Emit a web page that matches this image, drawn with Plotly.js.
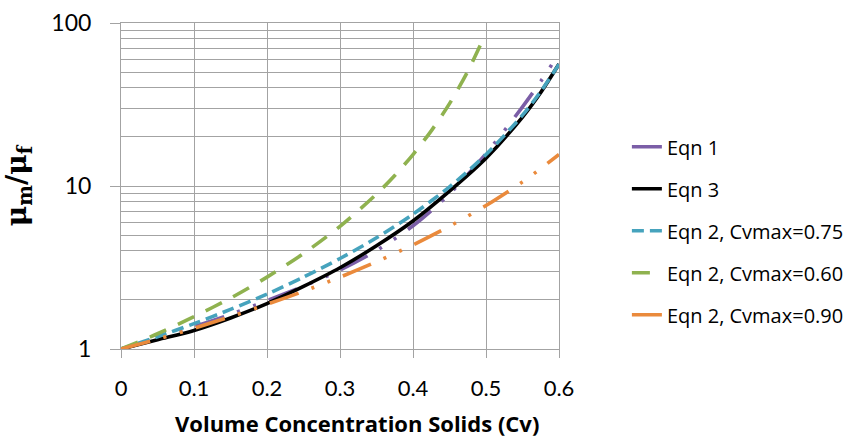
<!DOCTYPE html>
<html>
<head>
<meta charset="utf-8">
<script src="https://cdn.plot.ly/plotly-3.0.1.min.js"></script>
<style>html,body{margin:0;padding:0;background:#fff;}#chart{width:861px;height:441px;}</style>
</head>
<body>
<div id="chart"></div>
<script>
// Volume concentration (Cv) sample points
const cv = [0, 0.05, 0.1, 0.15, 0.2, 0.25, 0.3, 0.35, 0.4, 0.45, 0.5, 0.55, 0.575, 0.6];
const cvG = [0, 0.05, 0.1, 0.15, 0.2, 0.25, 0.3, 0.35, 0.375, 0.4, 0.425, 0.45, 0.475, 0.492];

// Relative viscosity values
const eqn1 = [1.00, 1.16, 1.37, 1.63, 1.98, 2.43, 3.05, 4.02, 5.70, 8.95, 15.8, 30.6, 43.9, 65.0];
const eqn3 = [1.00, 1.14, 1.30, 1.55, 1.90, 2.42, 3.15, 4.30, 6.10, 9.30, 14.8, 26.5, 37.5, 56.0];
const eqn2_075 = [1.00, 1.19, 1.43, 1.75, 2.17, 2.76, 3.59, 4.81, 6.72, 9.88, 15.6, 27.2, 38.0, 55.9];
const eqn2_060 = [1.00, 1.24, 1.58, 2.05, 2.76, 3.85, 5.66, 8.92, 11.6, 15.6, 21.8, 32.0, 50.5, 72.7];
const eqn2_090 = [1.00, 1.15, 1.34, 1.58, 1.88, 2.26, 2.76, 3.43, 4.35, 5.66, 7.59, 10.6, 12.8, 15.6];

const names = ["Eqn 1", "Eqn 3", "Eqn 2, Cvmax=0.75", "Eqn 2, Cvmax=0.60", "Eqn 2, Cvmax=0.90"];
const xTicks = [0, 0.1, 0.2, 0.3, 0.4, 0.5, 0.6];
const xTickText = ["0", "0.1", "0.2", "0.3", "0.4", "0.5", "0.6"];
const yTicks = [1, 10, 100];
const yTickText = ["1", "10", "100"];
const yMinor = [2, 3, 4, 5, 6, 7, 8, 9, 20, 30, 40, 50, 60, 70, 80, 90];

const W = 3.6;
function tr(x, y, name, color, dash, g) {
  return {x: x, y: y, name: name, type: "scatter", mode: "lines",
    line: {color: color, width: W, dash: dash, shape: "spline", smoothing: 0.8},
    legendgroup: g, hoverinfo: "skip"};
}
const data = [
  tr(cv, eqn1, names[0], "#7b5ea7", "30px,14px,3px,14px,3px,14px", "a"),
  tr(cv, eqn3, names[1], "#000000", "solid", "b"),
  tr(cv, eqn2_075, names[2], "#46a3bd", "12px,6px", "c"),
  tr(cvG, eqn2_060, names[3], "#8fb24f", "18px,13px", "d"),
  tr(cv, eqn2_090, names[4], "#ea8a3c", "30px,14px,3px,14px,3px,14px", "e")
];

const gc = "#a3a3a3";
const layout = {
  width: 861, height: 441,
  margin: {l: 121, r: 302, t: 23, b: 92},
  paper_bgcolor: "#ffffff", plot_bgcolor: "#ffffff",
  font: {family: "Lato, 'Open Sans', sans-serif", color: "#000"},
  showlegend: true,
  legend: {x: 1.155, xanchor: "left", y: 0.68, yanchor: "top",
    font: {size: 20, family: "'Open Sans', sans-serif", color: "#000"},
    tracegroupgap: 13, bgcolor: "rgba(0,0,0,0)"},
  xaxis: {range: [0, 0.6], tickvals: xTicks, ticktext: xTickText,
    showgrid: true, gridcolor: gc, gridwidth: 1, zeroline: false,
    showline: true, linecolor: gc, linewidth: 1, mirror: true,
    ticks: "outside", ticklen: 8, tickcolor: gc, tickwidth: 1,
    ticklabelstandoff: 12,
    tickfont: {size: 22, family: "Lato, sans-serif", color: "#000"}},
  yaxis: {type: "log", range: [0, 2], tickvals: yTicks, ticktext: yTickText,
    showgrid: true, gridcolor: gc, gridwidth: 1, zeroline: false,
    showline: true, linecolor: gc, linewidth: 1, mirror: true,
    ticks: "outside", ticklen: 10, tickcolor: gc, tickwidth: 1,
    ticklabelstandoff: 14,
    tickfont: {size: 23, family: "Lato, sans-serif", color: "#000"},
    minor: {tickvals: yMinor, showgrid: true, gridcolor: gc, gridwidth: 1, ticks: ""},
    title: {text: "<b>μ<sub>m</sub>/μ<sub>f</sub></b>", standoff: 24,
      font: {size: 28, family: "'DejaVu Serif', 'Liberation Serif', serif", color: "#000"}}},
  annotations: [{
    text: "<b>Volume Concentration Solids (Cv)</b>",
    xref: "paper", yref: "paper", x: 0.539, y: -0.228, xanchor: "center", yanchor: "middle",
    showarrow: false, font: {size: 22, family: "'Open Sans', sans-serif", color: "#000"}
  }]
};

Plotly.newPlot("chart", data, layout, {staticPlot: true, displayModeBar: false});
</script>
</body>
</html>
